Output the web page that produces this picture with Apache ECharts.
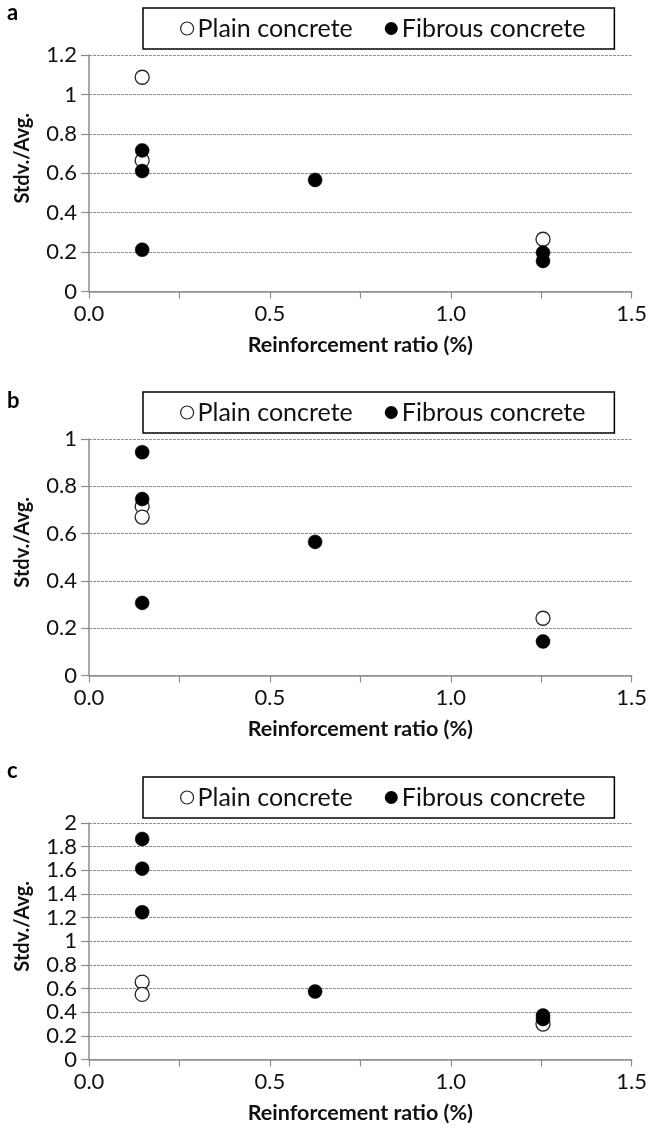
<!DOCTYPE html>
<html>
<head>
<meta charset="utf-8">
<script src="https://cdn.jsdelivr.net/npm/echarts@6/dist/echarts.min.js"></script>
<style>
html,body{margin:0;padding:0;background:#fff;}
#chart{width:650px;height:1129px;}
</style>
</head>
<body>
<div id="chart"></div>
<script>
// ---- data ----
const panelLabels = ['a', 'b', 'c'];
const seriesNames = ['Plain concrete', 'Fibrous concrete'];
const yMaxes = [1.2, 1, 2];
const xMin = 0, xMax = 1.5, xInterval = 0.5;
const xTitle = 'Reinforcement ratio (%)';
const yTitle = 'Stdv./Avg.';

const plainA   = [[0.147, 1.087], [0.147, 0.665], [1.255, 0.265]];
const fibrousA = [[0.147, 0.716], [0.147, 0.611], [0.147, 0.212], [0.625, 0.566], [1.255, 0.197], [1.255, 0.155]];
const plainB   = [[0.147, 0.715], [0.147, 0.670], [1.255, 0.242]];
const fibrousB = [[0.147, 0.944], [0.147, 0.746], [0.147, 0.307], [0.625, 0.565], [1.255, 0.144]];
const plainC   = [[0.147, 0.655], [0.147, 0.550], [1.255, 0.300]];
const fibrousC = [[0.147, 1.865], [0.147, 1.614], [0.147, 1.245], [0.625, 0.575], [1.255, 0.372], [1.255, 0.342]];

const plainData = [plainA, plainB, plainC];
const fibrousData = [fibrousA, fibrousB, fibrousC];

// ---- layout ----
const gridTops = [55, 439, 823];
const gridH = 236.5;
const legendTops = [8, 392, 777];
const labelTops = [2, 390, 760];

const FONT = 'Lato';
const chart = echarts.init(document.getElementById('chart'), null, {renderer: 'canvas'});

const grids = [], xAxes = [], yAxes = [], series = [], legends = [], titles = [];
const gray = '#8c8c8c';

for (let i = 0; i < 3; i++) {
  grids.push({left: 89, right: 17, top: gridTops[i], height: gridH, containLabel: false});
  xAxes.push({
    type: 'value', gridIndex: i, min: xMin, max: xMax, interval: xInterval,
    name: xTitle, nameLocation: 'middle', nameGap: 43,
    nameTextStyle: {fontFamily: FONT, fontWeight: 'bold', fontSize: 21.5, color: '#111'},
    axisLine: {show: true, onZero: false, lineStyle: {color: gray, width: 1.5}},
    axisTick: {show: true, length: 7, lineStyle: {color: gray, width: 1.2}},
    minorTick: {show: true, splitNumber: 2, length: 7, lineStyle: {color: gray, width: 1.2}},
    axisLabel: {fontFamily: FONT, fontSize: 22, color: '#111', margin: 11,
      formatter: v => v.toFixed(1)},
    splitLine: {show: false}
  });
  yAxes.push({
    type: 'value', gridIndex: i, min: 0, max: yMaxes[i], interval: 0.2,
    name: yTitle, nameLocation: 'middle', nameGap: 56,
    nameTextStyle: {fontFamily: FONT, fontWeight: 'bold', fontSize: 20, color: '#111', padding: [0, 0, 0, 30]},
    axisLine: {show: true, lineStyle: {color: gray, width: 1.5}},
    axisTick: {show: true, length: 8, lineStyle: {color: gray, width: 1.2}},
    axisLabel: {fontFamily: FONT, fontSize: 22, color: '#111', margin: 12,
      formatter: v => String(Math.round(v * 10) / 10)},
    splitLine: {show: true, lineStyle: {color: '#8f8f8f', width: 1, type: [3, 1]}}
  });
  series.push({
    name: seriesNames[0], type: 'scatter', xAxisIndex: i, yAxisIndex: i,
    data: plainData[i], symbol: 'circle', symbolSize: 14, z: 2,
    itemStyle: {color: '#fff', borderColor: '#222', borderWidth: 1.3, opacity: 1}
  });
  series.push({
    name: seriesNames[1], type: 'scatter', xAxisIndex: i, yAxisIndex: i,
    data: fibrousData[i], symbol: 'circle', symbolSize: 14, z: 3,
    itemStyle: {color: '#000', borderColor: '#000', borderWidth: 0.5, opacity: 1}
  });
  legends.push({
    left: 143, top: legendTops[i], orient: 'horizontal',
    padding: [8, 29, 8, 37], itemGap: 32, itemWidth: 13, itemHeight: 13,
    borderColor: '#000', borderWidth: 1.5, backgroundColor: '#fff',
    selectedMode: false,
    textStyle: {fontFamily: FONT, fontSize: 25, color: '#111', lineHeight: 25, padding: [0, 0, 0, -1]},
    data: [
      {name: seriesNames[0], icon: 'circle', itemStyle: {color: '#fff', borderColor: '#222', borderWidth: 1.2}},
      {name: seriesNames[1], icon: 'circle', itemStyle: {color: '#000', borderColor: '#000', borderWidth: 0}}
    ]
  });
  titles.push({
    text: panelLabels[i], left: 7, top: labelTops[i], padding: 0,
    textStyle: {fontFamily: FONT, fontWeight: 'bold', fontSize: 22, color: '#000'}
  });
}

chart.setOption({
  animation: false,
  backgroundColor: '#fff',
  title: titles,
  legend: legends,
  grid: grids,
  xAxis: xAxes,
  yAxis: yAxes,
  series: series
});
</script>
</body>
</html>
